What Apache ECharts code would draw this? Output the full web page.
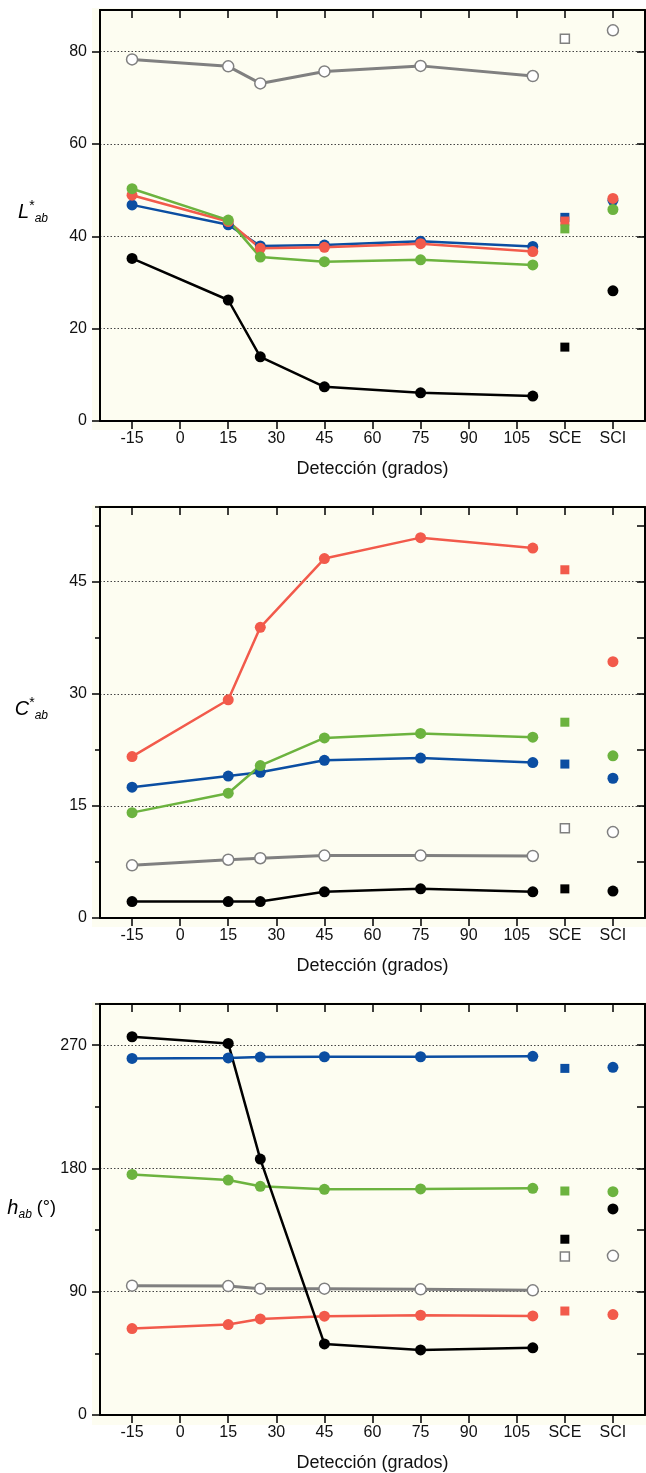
<!DOCTYPE html>
<html><head><meta charset="utf-8">
<script src="https://cdn.jsdelivr.net/npm/echarts@6/dist/echarts.min.js"></script>
<style>html,body{margin:0;padding:0;background:#fff}#c{width:646px;height:1473px}</style>
</head><body><div id="c"></div>
<script>
// ---------- data ----------
const angles = [-15, 15, 25, 45, 75, 110];
const xTickValues = [-15, 0, 15, 30, 45, 60, 75, 90, 105, 120, 135];
const xTickNames = { 120: 'SCE', 135: 'SCI' };
const posSCE = 120, posSCI = 135;
const xTitle = 'Detección (grados)';

// L*ab
const L_gray  = [78.3, 76.8, 73.1, 75.7, 76.9, 74.7];
const L_blue  = [46.8, 42.5, 37.9, 38.1, 38.9, 37.8];
const L_red   = [48.9, 43.2, 37.4, 37.6, 38.4, 36.7];
const L_green = [50.3, 43.5, 35.5, 34.5, 34.9, 33.8];
const L_black = [35.2, 26.2, 13.9, 7.4, 6.1, 5.4];
const L_sce = { gray: 82.8, blue: 44.1, red: 43.3, green: 41.6, black: 16.0 };
const L_sci = { gray: 84.6, blue: 47.8, red: 48.2, green: 45.8, black: 28.2 };

// C*ab
const C_gray  = [7.05, 7.8, 8.0, 8.35, 8.35, 8.3];
const C_blue  = [17.5, 19.0, 19.5, 21.1, 21.4, 20.8];
const C_red   = [21.6, 29.2, 38.9, 48.1, 50.9, 49.5];
const C_green = [14.1, 16.7, 20.4, 24.1, 24.7, 24.2];
const C_black = [2.2, 2.2, 2.2, 3.5, 3.9, 3.5];
const C_sce = { gray: 12.0, blue: 20.6, red: 46.6, green: 26.2, black: 3.9 };
const C_sci = { gray: 11.5, blue: 18.7, red: 34.3, green: 21.7, black: 3.6 };

// h_ab
const H_gray  = [94.4, 94.1, 92.2, 92.2, 91.7, 91.0];
const H_blue  = [260.3, 260.6, 261.3, 261.5, 261.5, 261.8];
const H_red   = [63.1, 66.0, 70.1, 72.1, 72.8, 72.3];
const H_green = [175.6, 171.5, 166.9, 164.7, 165.0, 165.5];
const H_black = [276.1, 271.2, 186.8, 51.9, 47.5, 49.0];
const H_sce = { gray: 115.7, blue: 253.0, red: 75.9, green: 163.5, black: 128.3 };
const H_sci = { gray: 116.2, blue: 253.8, red: 73.3, green: 163.0, black: 150.4 };

// ---------- styles ----------
const COLORS = { gray: '#808080', blue: '#0b4ea2', red: '#f25a4b', green: '#6cb33f', black: '#000000' };
const ORDER = ['gray', 'blue', 'red', 'green', 'black'];
const FONT = "'Liberation Sans', Arial, sans-serif";
const CREAM = '#fdfdf1';

const panels = [
  { top: 10, height: 411, min: 0, max: 89, interval: 20, rightInt: 20, minorInt: null,
    lines: { gray: L_gray, blue: L_blue, red: L_red, green: L_green, black: L_black }, sce: L_sce, sci: L_sci },
  { top: 507, height: 411, min: 0, max: 55, interval: 15, rightInt: 7.5, minorInt: 7.5,
    lines: { gray: C_gray, blue: C_blue, red: C_red, green: C_green, black: C_black }, sce: C_sce, sci: C_sci },
  { top: 1004, height: 412, min: 0, max: 300, interval: 90, rightInt: 45, minorInt: 45,
    lines: { gray: H_gray, blue: H_blue, red: H_red, green: H_green, black: H_black }, sce: H_sce, sci: H_sci }
];

const grids = [], xAxes = [], yAxes = [], series = [], graphics = [];

panels.forEach((p, pi) => {
  grids.push({ left: 100, right: 1, top: p.top, height: p.height, containLabel: false });
  graphics.push({ type: 'rect', z: -10, silent: true,
    shape: { x: 92, y: p.top - 2, width: 554, height: p.height + 11 }, style: { fill: CREAM } });

  const xb = xAxes.length;
  xAxes.push({
    type: 'value', gridIndex: pi, position: 'bottom', min: -25, max: 145,
    axisLine: { show: true, onZero: false, lineStyle: { color: '#000', width: 2 } },
    axisTick: { show: true, inside: false, length: 8, lineStyle: { color: '#000', width: 1.5 }, customValues: xTickValues },
    axisLabel: { customValues: xTickValues, margin: 10, color: '#111', fontSize: 16, fontFamily: FONT,
      formatter: v => xTickNames[v] || String(v) },
    splitLine: { show: false },
    name: xTitle, nameLocation: 'middle', nameGap: 39,
    nameTextStyle: { fontSize: 18, color: '#111', fontFamily: FONT }
  });
  xAxes.push({
    type: 'value', gridIndex: pi, position: 'top', min: -25, max: 145,
    axisLine: { show: true, onZero: false, lineStyle: { color: '#000', width: 2 } },
    axisTick: { show: true, inside: true, length: 8, lineStyle: { color: '#000', width: 1.5 }, customValues: xTickValues },
    axisLabel: { show: false }, splitLine: { show: false }
  });

  const yb = yAxes.length;
  yAxes.push({
    type: 'value', gridIndex: pi, position: 'left', min: p.min, max: p.max, interval: p.interval,
    axisLine: { show: true, onZero: false, lineStyle: { color: '#000', width: 2 } },
    axisTick: { show: true, inside: false, length: 8, lineStyle: { color: '#000', width: 1.5 } },
    axisLabel: { margin: 13, color: '#111', fontSize: 16, fontFamily: FONT, showMaxLabel: false },
    splitLine: { show: true, lineStyle: { color: '#444', width: 1, type: [1.5, 2] } }
  });
  yAxes.push({
    type: 'value', gridIndex: pi, position: 'right', min: p.min, max: p.max, interval: p.rightInt,
    axisLine: { show: true, onZero: false, lineStyle: { color: '#000', width: 2 } },
    axisTick: { show: true, inside: true, length: 8, lineStyle: { color: '#000', width: 1.5 } },
    axisLabel: { show: false }, splitLine: { show: false }
  });
  if (p.minorInt) {
    yAxes.push({
      type: 'value', gridIndex: pi, position: 'left', offset: 0, min: p.min, max: p.max, interval: p.minorInt,
      axisLine: { show: false, onZero: false },
      axisTick: { show: true, inside: false, length: 5, lineStyle: { color: '#000', width: 1.5 } },
      axisLabel: { show: false }, splitLine: { show: false }
    });
  }

  ORDER.forEach(k => {
    const col = COLORS[k];
    const open = k === 'gray';
    const itemStyle = open ? { color: '#ffffff', borderColor: col, borderWidth: 1.5, opacity: 1 } : { color: col, opacity: 1 };
    series.push({
      type: 'line', xAxisIndex: xb, yAxisIndex: yb,
      data: angles.map((a, i) => [a, p.lines[k][i]]),
      symbol: 'circle', symbolSize: open ? 11 : 11, showAllSymbol: true,
      lineStyle: { color: col, width: open ? 3 : 2.5 },
      itemStyle: itemStyle, animation: false, silent: true
    });
    series.push({
      type: 'scatter', xAxisIndex: xb, yAxisIndex: yb,
      data: [
        { value: [posSCE, p.sce[k]], symbol: 'rect', symbolSize: 9 },
        { value: [posSCI, p.sci[k]], symbol: 'circle', symbolSize: 11 }
      ],
      itemStyle: itemStyle, animation: false, silent: true
    });
  });
});

// y-axis titles (rich text)
const richBase = {
  m: { fontSize: 20, fontStyle: 'italic', fontFamily: FONT, color: '#111', lineHeight: 26 },
  sup: { fontSize: 14, fontFamily: FONT, color: '#111', verticalAlign: 'top', lineHeight: 14 },
  sub: { fontSize: 12, fontStyle: 'italic', fontFamily: FONT, color: '#111', verticalAlign: 'bottom', lineHeight: 12 },
  n: { fontSize: 18, fontFamily: FONT, color: '#111', lineHeight: 26 }
};
const yTitles = [
  { text: '{m|L}{sup|*}{sub|ab}', x: 48, y: 212 },
  { text: '{m|C}{sup|*}{sub|ab}', x: 48, y: 709 },
  { text: '{m|h}{sub|ab}{n| (°)}', x: 56, y: 1208 }
];
yTitles.forEach(t => graphics.push({
  type: 'text', x: t.x, y: t.y, silent: true,
  style: { text: t.text, rich: richBase, align: 'right', verticalAlign: 'middle' }
}));

const chart = echarts.init(document.getElementById('c'), null, { renderer: 'canvas' });
chart.setOption({
  animation: false,
  backgroundColor: '#ffffff',
  grid: grids, xAxis: xAxes, yAxis: yAxes, series: series, graphic: graphics
});
</script></body></html>
